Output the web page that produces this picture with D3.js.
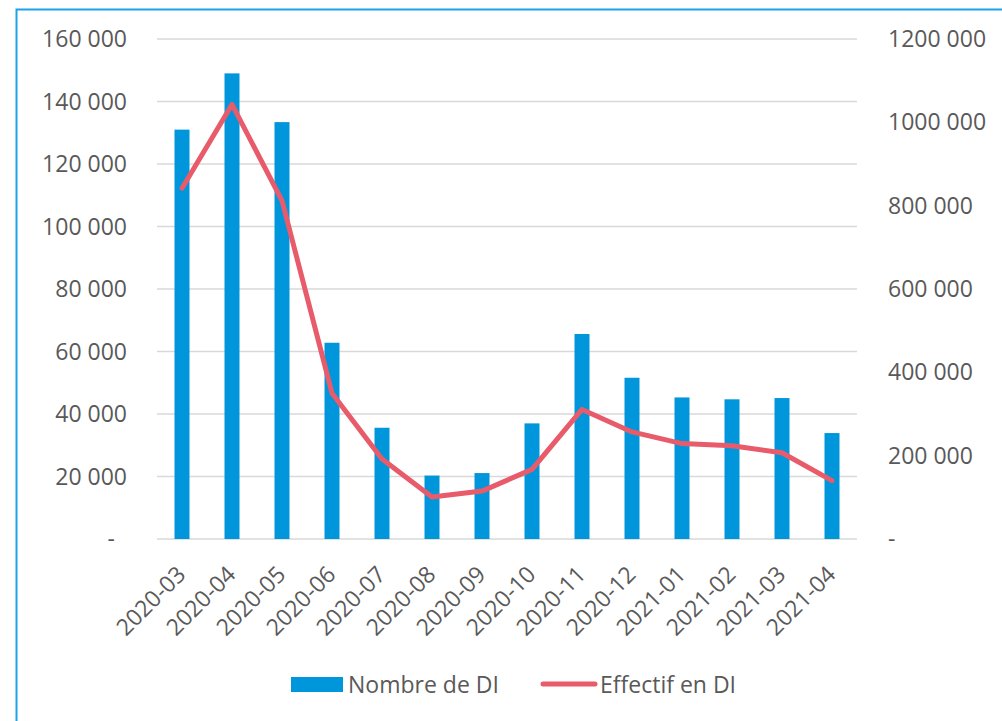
<!DOCTYPE html>
<html>
<head>
<meta charset="utf-8">
<script src="https://cdn.jsdelivr.net/npm/d3@7"></script>
<style>
  body { margin: 0; background: #fff; }
  svg text { font-family: "Open Sans", "Noto Sans", sans-serif; fill: #595959; }
</style>
</head>
<body>
<svg id="chart" width="1002" height="721"></svg>
<script>
const months = ['2020-03', '2020-04', '2020-05', '2020-06', '2020-07', '2020-08', '2020-09',
  '2020-10', '2020-11', '2020-12', '2021-01', '2021-02', '2021-03', '2021-04'];
const nombreDI = [131000, 149000, 133400, 62800, 35600, 20300, 21100,
  37000, 65600, 51600, 45300, 44700, 45100, 33900];
const effectifDI = [842000, 1043000, 812000, 350000, 192000, 101000, 115000,
  167000, 311000, 257000, 229000, 224000, 207000, 140000];
const leftTicks = [0, 20000, 40000, 60000, 80000, 100000, 120000, 140000, 160000];
const rightTicks = [0, 200000, 400000, 600000, 800000, 1000000, 1200000];
const rightLabels = ['-', '200 000', '400 000', '600 000', '800 000', '1000 000', '1200 000'];

const svg = d3.select('#chart');
const plot = {left: 157, right: 857, top: 39, bottom: 539};
const fontSize = 23;

// frame
svg.append('rect')
  .attr('x', 16.5).attr('y', 9.5)
  .attr('width', 1100).attr('height', 800)
  .attr('fill', 'none')
  .attr('stroke', '#1AA3E8')
  .attr('stroke-width', 2);

let x = d3.scaleBand()
  .domain(months)
  .range([plot.left, plot.right]);

let yLeft = d3.scaleLinear()
  .domain([0, 160000])
  .range([plot.bottom, plot.top]);

let yRight = d3.scaleLinear()
  .domain([0, 1200000])
  .range([plot.bottom, plot.top]);

function fmt(v) {
  if (v === 0) return '-';
  return d3.format(',')(v).replace(/,/g, ' ');
}

// gridlines
svg.append('g')
  .selectAll('line')
  .data(leftTicks)
  .join('line')
  .attr('x1', plot.left)
  .attr('x2', plot.right)
  .attr('y1', d => yLeft(d))
  .attr('y2', d => yLeft(d))
  .attr('stroke', '#d9d9d9')
  .attr('stroke-width', 1.5);

// left axis labels
svg.append('g')
  .selectAll('text')
  .data(leftTicks)
  .join('text')
  .attr('x', d => d === 0 ? 115 : 127)
  .attr('y', d => yLeft(d))
  .attr('dy', '0.35em')
  .attr('text-anchor', 'end')
  .attr('font-size', fontSize)
  .text(fmt);

// right axis labels
svg.append('g')
  .selectAll('text')
  .data(rightTicks)
  .join('text')
  .attr('x', 888)
  .attr('y', d => yRight(d))
  .attr('dy', '0.35em')
  .attr('font-size', fontSize)
  .text((d, i) => rightLabels[i]);

// bars
const barW = 15;
svg.append('g')
  .selectAll('rect')
  .data(nombreDI)
  .join('rect')
  .attr('x', (d, i) => x(months[i]) + x.bandwidth() / 2 - barW / 2)
  .attr('y', d => yLeft(d))
  .attr('width', barW)
  .attr('height', d => yLeft(0) - yLeft(d))
  .attr('fill', '#0096DB');

// line
let line = d3.line()
  .x((d, i) => x(months[i]) + x.bandwidth() / 2)
  .y(d => yRight(d));

svg.append('path')
  .datum(effectifDI)
  .attr('d', line)
  .attr('fill', 'none')
  .attr('stroke', '#E85B6B')
  .attr('stroke-width', 5)
  .attr('stroke-linejoin', 'round')
  .attr('stroke-linecap', 'round');

// x labels
svg.append('g')
  .selectAll('text')
  .data(months)
  .join('text')
  .attr('transform', d => `translate(${x(d) + x.bandwidth() / 2 + 5},${plot.bottom + 37}) rotate(-45)`)
  .attr('text-anchor', 'end')
  .attr('font-size', fontSize)
  .text(d => d);

// legend
const legend = svg.append('g');
legend.append('rect')
  .attr('x', 291).attr('y', 677)
  .attr('width', 52).attr('height', 15)
  .attr('fill', '#0096DB');
legend.append('text')
  .attr('x', 348).attr('y', 685)
  .attr('dy', '0.35em')
  .attr('font-size', fontSize)
  .text('Nombre de DI');
legend.append('line')
  .attr('x1', 543).attr('x2', 595)
  .attr('y1', 684).attr('y2', 684)
  .attr('stroke', '#E85B6B')
  .attr('stroke-width', 5)
  .attr('stroke-linecap', 'round');
legend.append('text')
  .attr('x', 600).attr('y', 685)
  .attr('dy', '0.35em')
  .attr('font-size', fontSize)
  .text('Effectif en DI');
</script>
</body>
</html>
